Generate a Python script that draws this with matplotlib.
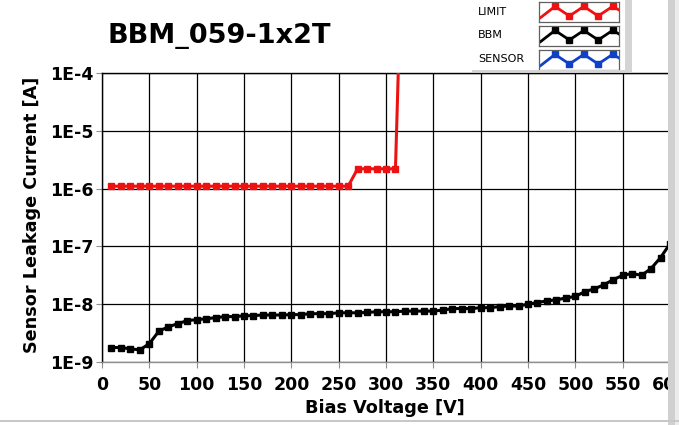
import matplotlib
matplotlib.use("Agg")
import matplotlib.pyplot as plt
from matplotlib.patches import Rectangle
from matplotlib.ticker import NullLocator

plt.rcParams.update({"font.family": "DejaVu Sans", "font.weight": "bold"})

# %% data
title = "BBM_059-1x2T"
legend_names = ["LIMIT", "BBM", "SENSOR"]
legend_colors = ["#ee1111", "#000000", "#1040c8"]

x_ticks = [0, 50, 100, 150, 200, 250, 300, 350, 400, 450, 500, 550, 600]
y_ticks = [1e-9, 1e-8, 1e-7, 1e-6, 1e-5, 1e-4]
y_tick_labels = ["1E-9", "1E-8", "1E-7", "1E-6", "1E-5", "1E-4"]

limit_voltage = [10, 20, 30, 40, 50, 60, 70, 80, 90, 100, 110, 120, 130,
                 140, 150, 160, 170, 180, 190, 200, 210, 220, 230, 240, 250,
                 260, 270, 280, 290, 300, 310, 320]
limit_current = [1.1e-6] * 26 + [2.2e-6] * 5 + [1.0]

bbm_voltage = [10, 20, 30, 40, 50, 60, 70, 80, 90, 100, 110, 120, 130, 140,
               150, 160, 170, 180, 190, 200, 210, 220, 230, 240, 250, 260,
               270, 280, 290, 300, 310, 320, 330, 340, 350, 360, 370, 380,
               390, 400, 410, 420, 430, 440, 450, 460, 470, 480, 490, 500,
               510, 520, 530, 540, 550, 560, 570, 580, 590, 600]
bbm_current = [1.78e-9, 1.78e-9, 1.69e-9, 1.62e-9, 2.08e-9, 3.4e-9, 4.06e-9,
               4.6e-9, 5.2e-9, 5.4e-9, 5.6e-9, 5.85e-9, 6.1e-9, 6.1e-9,
               6.3e-9, 6.35e-9, 6.5e-9, 6.5e-9, 6.5e-9, 6.6e-9, 6.6e-9,
               6.85e-9, 6.85e-9, 6.85e-9, 7.1e-9, 7.1e-9, 7.1e-9, 7.2e-9,
               7.4e-9, 7.4e-9, 7.4e-9, 7.6e-9, 7.6e-9, 7.6e-9, 7.6e-9,
               7.9e-9, 8.4e-9, 8.4e-9, 8.4e-9, 8.7e-9, 8.7e-9, 9.1e-9,
               9.3e-9, 9.3e-9, 1.0e-8, 1.07e-8, 1.14e-8, 1.19e-8, 1.28e-8,
               1.36e-8, 1.65e-8, 1.84e-8, 2.16e-8, 2.65e-8, 3.16e-8,
               3.39e-8, 3.16e-8, 4.14e-8, 6.4e-8, 1.11e-7]

sensor_voltage = []
sensor_current = []

# legend glyph (zigzag)
glyph_x = [0.02, 0.2, 0.38, 0.56, 0.74, 0.92, 1.0]
glyph_y = [0.22, 0.78, 0.3, 0.78, 0.3, 0.78, 0.6]

# %% figure
W, H = 679, 425
fig = plt.figure(figsize=(W / 100, H / 100), dpi=100)
fig.patch.set_facecolor("white")

ax = fig.add_axes([102 / W, 1 - 362 / H, 568 / W, 289 / H])
ax.set_yscale("log")

lw = 2.2
ms = 4.6
ax.plot(limit_voltage, limit_current, color=legend_colors[0], lw=lw,
        marker="s", ms=ms, zorder=3)
ax.plot(bbm_voltage, bbm_current, color=legend_colors[1], lw=lw,
        marker="s", ms=ms, zorder=3)
ax.plot(sensor_voltage, sensor_current, color=legend_colors[2], lw=lw,
        marker="s", ms=ms, zorder=3)

ax.set_xlim(0, 600)
ax.set_ylim(1e-9, 1e-4)
ax.set_xticks(x_ticks)
ax.set_yticks(y_ticks, y_tick_labels)
ax.yaxis.set_minor_locator(NullLocator())
ax.grid(True, color="black", lw=0.9)
ax.set_axisbelow(True)

ax.tick_params(direction="out", length=4, width=0.8, color="#909090",
               labelsize=12.5, labelcolor="black")
ax.tick_params(axis="x", pad=6)
ax.tick_params(axis="y", pad=2)

ax.spines["left"].set_color("black")
ax.spines["top"].set_color("black")
ax.spines["bottom"].set_color("#909090")
ax.spines["right"].set_color("#909090")
for sp in ax.spines.values():
    sp.set_linewidth(1)

fig.text(385 / W, 1 - 408 / H, "Bias Voltage [V]", fontsize=12.7,
         fontweight="bold", ha="center", va="center")
fig.text(32 / W, 1 - 215 / H, "Sensor Leakage Current [A]", fontsize=12.7,
         fontweight="bold", ha="center", va="center", rotation=90)
fig.text(107 / W, 1 - 36 / H, title, fontsize=19.5, fontweight="bold",
         ha="left", va="center")

# %% legend panel
fig.add_artist(Rectangle((472 / W, 1 - 72 / H), 160 / W, 2 / H,
                         transform=fig.transFigure, color="#d4d4d4", lw=0))
fig.add_artist(Rectangle((625 / W, 1 - 72 / H), 7 / W, 72 / H,
                         transform=fig.transFigure, color="#d4d4d4", lw=0))

label_y = [12, 35, 59]
box_top = [2, 26, 50]
for name, col, ly, bt in zip(legend_names, legend_colors, label_y, box_top):
    fig.text(478 / W, 1 - ly / H, name, fontsize=8, fontweight="normal",
             ha="left", va="center")
    lax = fig.add_axes([539 / W, 1 - (bt + 20) / H, 80 / W, 20 / H])
    lax.plot(glyph_x, glyph_y, color=col, lw=2, solid_joinstyle="miter")
    lax.plot(glyph_x[1:-1], glyph_y[1:-1], ls="none", marker="s", ms=4,
             color=col)
    lax.set_xlim(0, 1)
    lax.set_ylim(0, 1)
    lax.set_xticks([])
    lax.set_yticks([])
    for sp in lax.spines.values():
        sp.set_color("#606060")
        sp.set_linewidth(0.9)

# window border on the right and bottom
fig.add_artist(Rectangle((668 / W, 0), 7 / W, 1, transform=fig.transFigure,
                         color="#d0d0d0", lw=0, zorder=10))
fig.add_artist(Rectangle((675 / W, 0), 4 / W, 1, transform=fig.transFigure,
                         color="#ececec", lw=0, zorder=10))
fig.add_artist(Rectangle((0, 3 / H), 1, 2 / H, transform=fig.transFigure,
                         color="#c8c8c8", lw=0, zorder=10))

plt.savefig("out.png", dpi=100)
